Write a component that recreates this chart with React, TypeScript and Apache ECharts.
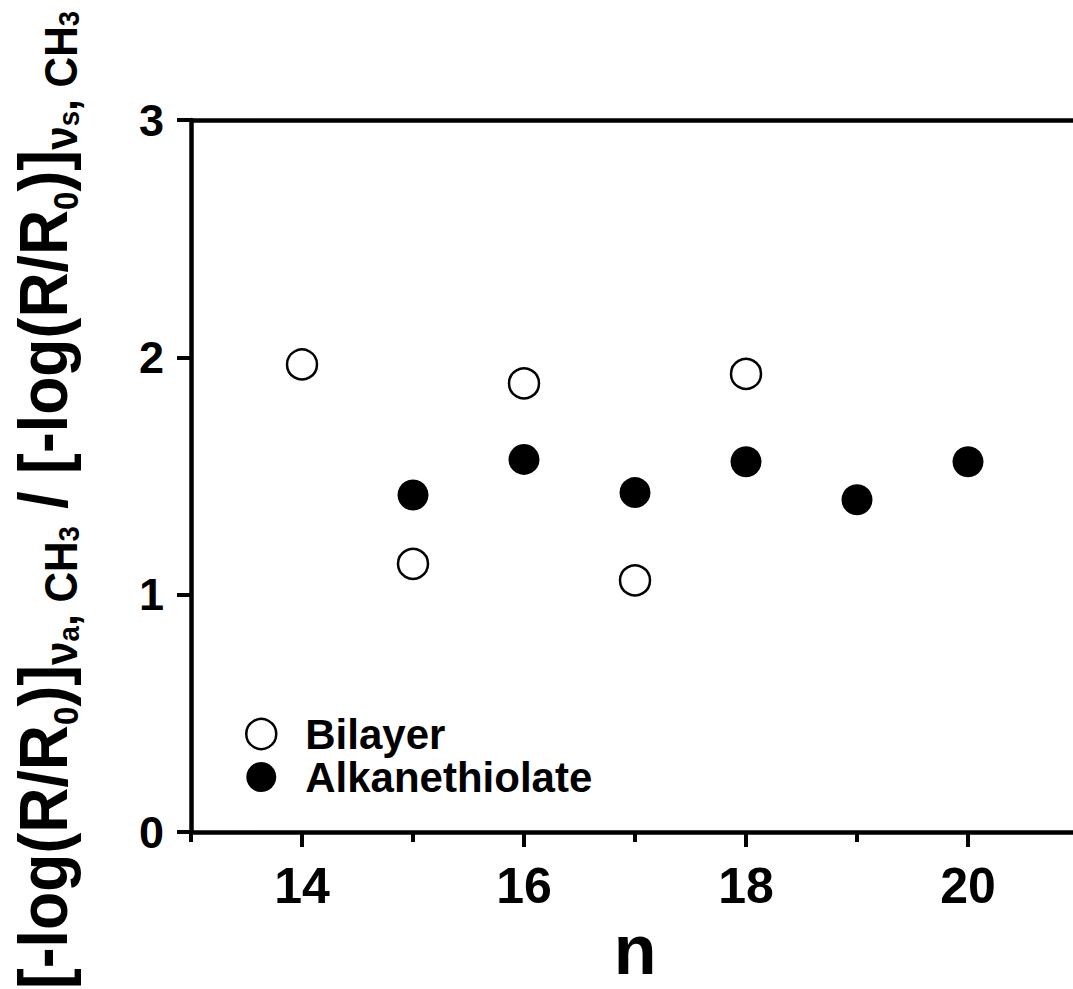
import React, { useEffect, useRef } from "react";
import * as echarts from "echarts";

// Chain length n and band-intensity ratios
const bilayerN = [14, 15, 16, 17, 18];
const bilayerRatio = [1.97, 1.13, 1.89, 1.06, 1.93];
const thiolateN = [15, 16, 17, 18, 19, 20];
const thiolateRatio = [1.42, 1.57, 1.43, 1.56, 1.4, 1.56];

const seriesNames = ["Bilayer", "Alkanethiolate"];
const majorTicksX = [14, 16, 18, 20];
const minorTicksX = [13, 15, 17, 19, 21];

const FONT = "'Liberation Sans', Arial, Helvetica, sans-serif";

const Y_TITLE =
  "{m|[-log(R/R}{z|0}{m|)]}{s|ν}{t|a}{s|, CH}{t|3}" +
  "{m| / [-log(R/R}{z|0}{m|)]}{s|ν}{t|s}{s|, CH}{t|3}";

export default function App() {
  const ref = useRef<HTMLDivElement>(null);

  useEffect(() => {
    if (!ref.current) return;
    const chart = echarts.init(ref.current, undefined, { renderer: "svg" });

    const axisLine = { show: true, onZero: false, lineStyle: { color: "#000", width: 4.5 } };
    const tickStyle = { color: "#000", width: 4 };

    const option = {
      animation: false,
      backgroundColor: "#fff",
      grid: { left: 191, top: 120, width: 888, height: 712 },
      legend: {
        orient: "vertical",
        left: 240,
        top: 708,
        itemWidth: 30,
        itemHeight: 30,
        itemGap: 1,
        icon: "circle",
        selectedMode: false,
        textStyle: {
          fontSize: 42,
          fontWeight: "bold",
          fontFamily: FONT,
          color: "#000",
          padding: [0, 0, 0, 24],
        },
        data: [
          { name: seriesNames[0], itemStyle: { color: "#fff", borderColor: "#000", borderWidth: 2.5, opacity: 1 } },
          { name: seriesNames[1], itemStyle: { color: "#000", borderWidth: 0, opacity: 1 } },
        ],
      },
      xAxis: [
        {
          type: "value",
          min: 13,
          max: 21,
          position: "bottom",
          axisLine,
          axisTick: { show: true, customValues: majorTicksX, length: 15, lineStyle: tickStyle },
          axisLabel: {
            customValues: majorTicksX,
            margin: 29,
            fontSize: 50,
            fontWeight: "bold",
            fontFamily: FONT,
            color: "#000",
          },
          splitLine: { show: false },
        },
        {
          type: "value",
          min: 13,
          max: 21,
          position: "bottom",
          axisLine: { show: false },
          axisTick: { show: true, customValues: minorTicksX, length: 10, lineStyle: tickStyle },
          axisLabel: { show: false },
          splitLine: { show: false },
        },
        {
          type: "value",
          min: 13,
          max: 21,
          position: "top",
          axisLine,
          axisTick: { show: false },
          axisLabel: { show: false },
          splitLine: { show: false },
        },
      ],
      yAxis: {
        type: "value",
        min: 0,
        max: 3,
        interval: 1,
        axisLine,
        axisTick: { show: true, length: 14, lineStyle: tickStyle },
        axisLabel: {
          margin: 27,
          fontSize: 45,
          fontWeight: "bold",
          fontFamily: FONT,
          color: "#000",
        },
        splitLine: { show: false },
      },
      series: [
        {
          type: "scatter",
          name: seriesNames[0],
          xAxisIndex: 0,
          symbol: "circle",
          symbolSize: 30,
          itemStyle: { color: "#fff", borderColor: "#000", borderWidth: 2.5, opacity: 1 },
          data: bilayerN.map((n, i) => [n, bilayerRatio[i]]),
          z: 3,
        },
        {
          type: "scatter",
          name: seriesNames[1],
          xAxisIndex: 0,
          symbol: "circle",
          symbolSize: 31,
          itemStyle: { color: "#000", opacity: 1 },
          data: thiolateN.map((n, i) => [n, thiolateRatio[i]]),
          z: 3,
        },
      ],
      graphic: [
        {
          type: "text",
          x: 44,
          y: 500,
          rotation: Math.PI / 2,
          scaleX: 0.92,
          style: {
            text: Y_TITLE,
            align: "center",
            verticalAlign: "middle",
            fill: "#000",
            fontSize: 68,
            fontWeight: "bold",
            fontFamily: FONT,
            rich: {
              m: { fontSize: 68, lineHeight: 80, fontWeight: "bold", fontFamily: FONT, fill: "#000" },
              z: { fontSize: 36, lineHeight: 41, verticalAlign: "bottom", fontWeight: "bold", fontFamily: FONT, fill: "#000" },
              s: { fontSize: 46, lineHeight: 52, verticalAlign: "bottom", fontWeight: "bold", fontFamily: FONT, fill: "#000" },
              t: { fontSize: 30, lineHeight: 21, verticalAlign: "bottom", fontWeight: "bold", fontFamily: FONT, fill: "#000" },
            },
          },
        },
        {
          type: "text",
          x: 635,
          y: 950,
          style: {
            text: "n",
            align: "center",
            verticalAlign: "middle",
            fill: "#000",
            fontSize: 70,
            fontWeight: "bold",
            fontFamily: FONT,
          },
        },
      ],
    };

    chart.setOption(option as any);
    return () => chart.dispose();
  }, []);

  return (
    <div
      style={{
        position: "fixed",
        left: 0,
        top: 0,
        width: 1073,
        height: 989,
        overflow: "hidden",
        background: "#fff",
      }}
    >
      <div ref={ref} style={{ width: 1090, height: 989 }} />
    </div>
  );
}
